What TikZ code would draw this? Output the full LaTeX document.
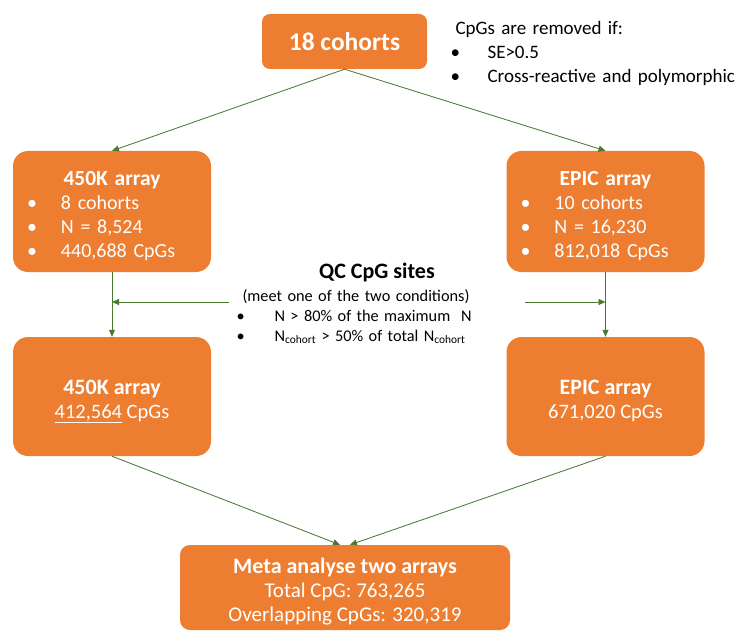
\documentclass[tikz,border=0pt]{standalone}
\usepackage{fontspec}
\setmainfont{Carlito}
\usetikzlibrary{arrows.meta}
\definecolor{boxorange}{HTML}{ED7D31}
\definecolor{arrowgreen}{HTML}{4A7A32}
\tikzset{>={Triangle[length=7pt,width=6pt]}}
\tikzset{
  orangebox/.style={rounded corners=15pt, fill=boxorange, text=white, inner sep=0pt},
  flow/.style={->, draw=arrowgreen, fill=arrowgreen, line width=0.8pt},
}
\newcommand{\bul}{\hspace*{14pt}\makebox[34pt][l]{\textbullet}}
\newcommand{\highstrut}{\rule{0pt}{24pt}}
\newcommand{\boxtitle}[1]{\makebox[\hsize][c]{\fontsize{21.5}{24}\selectfont\bfseries\highstrut #1}}

\begin{document}
\begin{tikzpicture}[x=1pt,y=-1pt]
          \useasboundingbox (0,0) rectangle (738,631);
          \node[orangebox, rounded corners=8pt, minimum width=165pt, minimum height=55pt,
                font=\fontsize{25.5}{28}\selectfont\bfseries] (cohorts) at (344.5,41.5) {18 cohorts};
          \node[anchor=base west, text width=320pt, align=left, font=\fontsize{19}{24}\selectfont]
                (removed) at (452,35) {CpGs are removed if:\\
                \hspace*{-5pt}\makebox[37pt][l]{\textbullet}SE>0.5\\
                \hspace*{-5pt}\makebox[37pt][l]{\textbullet}Cross-reactive and polymorphic};
          % first row
          \begin{scope}[every node/.append style={orangebox, text width=198pt, minimum height=121pt,
                align=left, font=\fontsize{20}{24}\selectfont}]
            \node (k450a) at (112,211.5) {\boxtitle{450K array}\\ \bul 8 cohorts\\ \bul N = 8,524\\ \bul 440,688 CpGs};
            \node (epica) at (605.5,211.5) {\boxtitle{EPIC array}\\ \bul 10 cohorts\\ \bul N = 16,230\\ \bul 812,018 CpGs};
          \end{scope}
          % second row
          \begin{scope}[every node/.append style={orangebox, minimum width=198pt, minimum height=119pt,
                align=center, font=\fontsize{20.5}{24}\selectfont}]
            \node (k450b) at (112,396.5) {{\fontsize{22}{24}\selectfont\bfseries\highstrut 450K array}\\ \underline{412,564} CpGs};
            \node (epicb) at (605.5,396.5) {{\fontsize{22}{24}\selectfont\bfseries\highstrut EPIC array}\\ 671,020 CpGs};
          \end{scope}
          \node[orangebox, rounded corners=10pt, minimum width=330pt, minimum height=85pt, align=center,
                font=\fontsize{21}{24}\selectfont] (meta) at (345,587.5)
                {{\fontsize{22}{24}\selectfont\bfseries\highstrut Meta analyse two arrays}\\ Total CpG: 763,265\\ Overlapping CpGs: 320,319};
          % QC text
          \node[anchor=base, font=\fontsize{22}{24}\selectfont\bfseries] (qctitle) at (377,278) {QC CpG sites};
          \node[anchor=base west, text width=260pt, align=left, font=\fontsize{16.3}{20}\selectfont]
                (qccond) at (239,301) {(meet one of the two conditions)\\
                \hspace*{-6pt}\makebox[38pt][l]{\textbullet}N > 80\% of the maximum~ N\\
                \hspace*{-6pt}\makebox[38pt][l]{\textbullet}N\textsubscript{cohort} > 50\% of total N\textsubscript{cohort}};
          \coordinate (qcleft) at (229,302);
          \coordinate (qcright) at (525,302);
          % connectors
          \draw[flow] (cohorts.south) -- (k450a.north);
          \draw[flow] (cohorts.south) -- (epica.north);
          \draw[flow] (k450a.south) -- (k450b.north);
          \draw[flow] (epica.south) -- (epicb.north);
          \draw[flow] (qcleft) -- (qcleft -| k450a.south);
          \draw[flow] (qcright) -- (qcright -| epica.south);
          \draw[flow] (k450b.south) -- ([xshift=-5pt]meta.north);
          \draw[flow] (epicb.south) -- ([xshift=5pt]meta.north);
        \end{tikzpicture}
\end{document}
